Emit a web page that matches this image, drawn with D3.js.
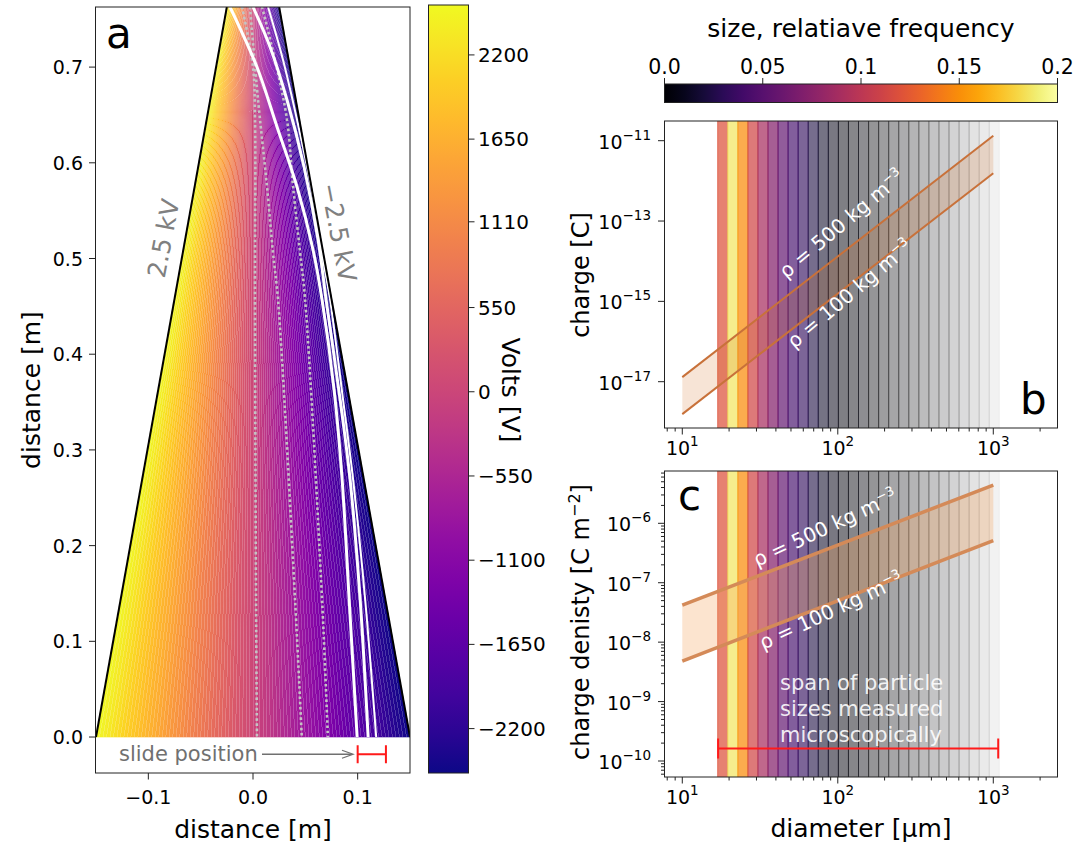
<!DOCTYPE html>
<html><head><meta charset="utf-8">
<script src="https://cdn.jsdelivr.net/npm/d3@7"></script>
<style>body{margin:0;background:#fff}svg{display:block}text{font-family:"DejaVu Sans",sans-serif}</style>
</head><body><svg id="fig" width="1073" height="846"></svg>
<script>
// ---------------- data ----------------
const plateVolts = [2500, -2500];
const plateBottomX = [-0.15, 0.15];
const plateTopX = [-0.025, 0.025];
const plateTopY = 0.7628;
const nLevels = 90;
const voltTicks = [2200, 1650, 1110, 550, 0, -550, -1100, -1650, -2200];
const yTicksA = [0, 0.1, 0.2, 0.3, 0.4, 0.5, 0.6, 0.7];
const xTicksA = [-0.1, 0, 0.1];
const dotted1 = [[-0.0105,0.763],[0,0.700],[0.0019,0.645],[0.0019,0.457],[0.0029,0.143],[0.0038,0]];
const dotted2 = [[-0.0029,0.763],[0.0048,0.666],[0.0134,0.575],[0.0191,0.506],[0.0239,0.457],[0.0402,0.143],[0.0466,0]];
const dotted3 = [[0.0086,0.763],[0.0211,0.707],[0.0325,0.645],[0.0383,0.575],[0.0450,0.506],[0.0498,0.457],[0.0660,0.143],[0.0715,0]];
const white1 = [[-0.0220,0.7628],[0.0038,0.7001],[0.0230,0.6374],[0.0421,0.5747],[0.0574,0.5089],[0.0660,0.4566],[0.0775,0.3626],[0.0852,0.2685],[0.0919,0.1432],[0.0995,0]];
const white2 = [[0,0.7628],[0.0163,0.7210],[0.0325,0.6656],[0.0488,0.5956],[0.0622,0.5193],[0.0699,0.4566],[0.0833,0.3521],[0.0928,0.2685],[0.1024,0.1432],[0.1100,0]];
const white3 = [[0.0144,0.7628],[0.0287,0.7074],[0.0421,0.6447],[0.0555,0.5747],[0.0670,0.4984],[0.0737,0.4566],[0.0861,0.3521],[0.0957,0.2685],[0.1072,0.1432],[0.1177,0]];
const slideRange = [0.1, 0.127];
const slideY = -0.018;

const binEdges = [16.89,19.61,22.76,26.41,30.65,35.57,41.29,47.91,55.61,64.54,74.90,86.95,100.9,117.1,135.9,157.8,183.1,212.5,246.6,286.2,332.2,385.5,447.4,519.2,602.6,699.4,811.7,942.1,1093];
const binFreq = [0.12,0.186,0.15,0.112,0.09,0.072,0.054,0.04,0.032,0.022,0.014,0.008,0.004,0.003,0.003,0.002,0.002,0.002,0.0015,0.0015,0.001,0.001,0.001,0.0005,0.0005,0.0005,0.0003,0.0002];
const freqTicks = [0, 0.05, 0.1, 0.15, 0.2];
const freqTickLabels = ["0.0", "0.05", "0.1", "0.15", "0.2"];

const diam = [10, 1000];
const charge500 = [1.3e-17, 1.33e-11];
const charge100 = [1.56e-18, 1.55e-12];
const density500 = [4.2e-8, 4.4e-6];
const density100 = [4.8e-9, 5.1e-7];
const spanRange = [17, 1076];
const spanY = 1.63e-10;
const chargeTickExp = [-11, -13, -15, -17];
const densityTickExp = [-6, -7, -8, -9, -10];
const diamTickExp = [1, 2, 3];

// ---------------- drawing ----------------
const svg = d3.select("#fig");
const defs = svg.append("defs");
const MINUS = "\u2212";
const fmtNum = v => (v < 0 ? MINUS : "") + Math.abs(v);

// ===== Panel a =====
const xA = d3.scaleLinear().domain([-0.15, 0.15]).range([96, 410]);
const yA = d3.scaleLinear().domain([-0.0376, 0.7628]).range([773, 7]);
const vColor = d3.scaleLinear().domain([-2500, 2500]).range([0, 1]);

defs.append("clipPath").attr("id", "clipA").append("rect")
  .attr("x", 96).attr("y", 7).attr("width", 314).attr("height", 766);

const gA = svg.append("g").attr("clip-path", "url(#clipA)");
const levels = d3.range(nLevels + 1).map(k => plateVolts[0] + (plateVolts[1] - plateVolts[0]) * k / nLevels);
const posAt = (v, which) => {
  const f = (plateVolts[0] - v) / (plateVolts[0] - plateVolts[1]);
  return which === "b" ? plateBottomX[0] + f * (plateBottomX[1] - plateBottomX[0])
                       : plateTopX[0] + f * (plateTopX[1] - plateTopX[0]);
};
const bands = d3.pairs(levels);
gA.selectAll("path.band").data(bands).join("path")
  .attr("class", "band")
  .attr("d", ([a, b]) => {
    const pts = [[posAt(a, "b"), 0], [posAt(b, "b"), 0], [posAt(b, "t"), plateTopY], [posAt(a, "t"), plateTopY]];
    return "M" + pts.map(p => [xA(p[0]), yA(p[1])].join(",")).join("L") + "Z";
  })
  .attr("fill", ([a, b]) => d3.interpolatePlasma(vColor((a + b) / 2)))
  .attr("stroke", ([a, b]) => d3.interpolatePlasma(vColor((a + b) / 2)))
  .attr("stroke-width", 0.6);
// contour seams
gA.selectAll("line.seam").data(levels.slice(1, -1)).join("line")
  .attr("x1", v => xA(posAt(v, "b"))).attr("y1", yA(0))
  .attr("x2", v => xA(posAt(v, "t"))).attr("y2", yA(plateTopY))
  .attr("stroke", "#fff").attr("stroke-opacity", 0.2).attr("stroke-width", 0.8)
  .attr("shape-rendering", "crispEdges");

const lineA = d3.line().x(d => xA(d[0])).y(d => yA(d[1])).curve(d3.curveCatmullRom);
[dotted1, dotted2, dotted3].forEach(p => {
  gA.append("path").attr("d", lineA(p)).attr("fill", "none")
    .attr("stroke", "#c4c4c4").attr("stroke-width", 2.6).attr("stroke-dasharray", "2.6,2.6");
});
[[white1, 3], [white2, 3], [white3, 2]].forEach(([p, w]) => {
  gA.append("path").attr("d", lineA(p)).attr("fill", "none")
    .attr("stroke", "#fff").attr("stroke-width", w);
});
// plates
[0, 1].forEach(i => {
  gA.append("line")
    .attr("x1", xA(plateBottomX[i])).attr("y1", yA(0))
    .attr("x2", xA(plateTopX[i])).attr("y2", yA(plateTopY))
    .attr("stroke", "#000").attr("stroke-width", 2);
});
// frame
svg.append("rect").attr("x", 95.5).attr("y", 7).attr("width", 314.5).attr("height", 766)
  .attr("fill", "none").attr("stroke", "#222").attr("stroke-width", 1);
// axes ticks
yTicksA.forEach(t => {
  svg.append("line").attr("x1", 89).attr("x2", 95.5).attr("y1", yA(t)).attr("y2", yA(t)).attr("stroke", "#222");
  svg.append("text").attr("x", 83).attr("y", yA(t) + 7).attr("text-anchor", "end")
    .attr("font-size", 19).text(t.toFixed(1));
});
xTicksA.forEach(t => {
  svg.append("line").attr("x1", xA(t)).attr("x2", xA(t)).attr("y1", 773).attr("y2", 779.5).attr("stroke", "#222");
  svg.append("text").attr("x", xA(t)).attr("y", 804).attr("text-anchor", "middle")
    .attr("font-size", 19).text((t < 0 ? MINUS : "") + Math.abs(t).toFixed(1));
});
svg.append("text").attr("x", xA(0)).attr("y", 838).attr("text-anchor", "middle").attr("font-size", 25).text("distance [m]");
svg.append("text").attr("transform", "translate(40,390) rotate(-90)").attr("text-anchor", "middle").attr("font-size", 25).text("distance [m]");
svg.append("text").attr("x", 106).attr("y", 48).attr("font-size", 42).text("a");
svg.append("text").attr("transform", "translate(172,240) rotate(-79)").attr("text-anchor", "middle")
  .attr("font-size", 25).attr("fill", "#808080").text("2.5 kV");
svg.append("text").attr("transform", "translate(330,234) rotate(79)").attr("text-anchor", "middle")
  .attr("font-size", 25).attr("fill", "#808080").text(MINUS + "2.5 kV");
// slide position
svg.append("text").attr("x", 119).attr("y", yA(slideY) + 7).attr("font-size", 21).attr("fill", "#707070").text("slide position");
svg.append("line").attr("x1", 262).attr("x2", 352).attr("y1", yA(slideY)).attr("y2", yA(slideY))
  .attr("stroke", "#707070").attr("stroke-width", 1.3);
svg.append("path").attr("d", `M342,${yA(slideY) - 4}L353,${yA(slideY)}L342,${yA(slideY) + 4}`)
  .attr("fill", "none").attr("stroke", "#707070").attr("stroke-width", 1.3);
const sy = yA(slideY);
svg.append("path").attr("d", `M${xA(slideRange[0])},${sy}H${xA(slideRange[1])}M${xA(slideRange[0])},${sy - 9}V${sy + 9}M${xA(slideRange[1])},${sy - 9}V${sy + 9}`)
  .attr("stroke", "#ff1a1a").attr("stroke-width", 2).attr("fill", "none");

// ===== Volts colorbar =====
const cbV = d3.scaleLinear().domain([-2490, 2526]).range([773, 5]);
const gradV = defs.append("linearGradient").attr("id", "gradV").attr("x1", 0).attr("x2", 0).attr("y1", 1).attr("y2", 0);
d3.range(0, 1.0001, 0.05).forEach(t => gradV.append("stop").attr("offset", t).attr("stop-color", d3.interpolatePlasma(t)));
svg.append("rect").attr("x", 428.5).attr("y", 5).attr("width", 40).attr("height", 768)
  .attr("fill", "url(#gradV)").attr("stroke", "#222").attr("stroke-width", 1);
voltTicks.forEach(t => {
  svg.append("line").attr("x1", 468.5).attr("x2", 474.5).attr("y1", cbV(t)).attr("y2", cbV(t)).attr("stroke", "#222");
  svg.append("text").attr("x", 478).attr("y", cbV(t) + 7).attr("font-size", 20).text(fmtNum(t));
});
svg.append("text").attr("transform", "translate(502,390) rotate(90)").attr("text-anchor", "middle").attr("font-size", 25).text("Volts [V]");

// ===== frequency colorbar =====
const cbF = d3.scaleLinear().domain([0, 0.2]).range([664.5, 1057.5]);
const gradF = defs.append("linearGradient").attr("id", "gradF");
d3.range(0, 1.0001, 0.05).forEach(t => gradF.append("stop").attr("offset", t).attr("stop-color", d3.interpolateInferno(t)));
svg.append("rect").attr("x", 664.5).attr("y", 84).attr("width", 393).attr("height", 18.5)
  .attr("fill", "url(#gradF)").attr("stroke", "#222").attr("stroke-width", 1);
freqTicks.forEach((t, i) => {
  svg.append("line").attr("x1", cbF(t)).attr("x2", cbF(t)).attr("y1", 78).attr("y2", 84).attr("stroke", "#222");
  svg.append("text").attr("x", cbF(t)).attr("y", 74).attr("text-anchor", "middle").attr("font-size", 20.5).text(freqTickLabels[i]);
});
svg.append("text").attr("x", 861).attr("y", 37).attr("text-anchor", "middle").attr("font-size", 25).text("size, relatiave frequency");

// ===== Panels b and c =====
const xS = d3.scaleLog().domain([7.685, 2588]).range([664.5, 1057.5]);
const alphaS = d3.scaleLinear().domain([0, 5, binFreq.length - 1]).range([0.72, 0.72, 0.05]).clamp(true);

function panel(id, top, bottom, yS, lo, hi, lineColor, lineW, fillColor, fillOp) {
  defs.append("clipPath").attr("id", id).append("rect")
    .attr("x", 664.5).attr("y", top).attr("width", 393).attr("height", bottom - top);
  const g = svg.append("g").attr("clip-path", `url(#${id})`);
  binFreq.forEach((f, i) => {
    const c = d3.interpolateInferno(f / 0.2);
    g.append("rect").attr("x", xS(binEdges[i])).attr("y", top - 2)
      .attr("width", xS(binEdges[i + 1]) - xS(binEdges[i])).attr("height", bottom - top + 4)
      .attr("fill", c).attr("fill-opacity", alphaS(i))
      .attr("stroke", c).attr("stroke-opacity", alphaS(i)).attr("stroke-width", 1);
  });
  const area = d3.area().x((d, i) => xS(diam[i])).y0((d, i) => yS(lo[i])).y1((d, i) => yS(hi[i]));
  g.append("path").attr("d", area(diam)).attr("fill", fillColor).attr("fill-opacity", fillOp);
  const ln = d3.line().x((d, i) => xS(diam[i])).y(d => yS(d));
  [hi, lo].forEach(arr => g.append("path").attr("d", ln(arr)).attr("fill", "none")
    .attr("stroke", lineColor).attr("stroke-width", lineW));
  return g;
}
function frame(top, bottom) {
  svg.append("rect").attr("x", 664.5).attr("y", top).attr("width", 393).attr("height", bottom - top)
    .attr("fill", "none").attr("stroke", "#222").attr("stroke-width", 1);
}
function xAxisLog(bottom, labelY) {
  diamTickExp.forEach(e => {
    const x = xS(Math.pow(10, e));
    svg.append("line").attr("x1", x).attr("x2", x).attr("y1", bottom).attr("y2", bottom + 6.5).attr("stroke", "#222");
    const t = svg.append("text").attr("x", x).attr("y", labelY).attr("text-anchor", "middle").attr("font-size", 19);
    t.append("tspan").text("10");
    t.append("tspan").attr("dy", -9).attr("font-size", 13.5).text(e);
  });
  [0, 1, 2, 3].forEach(e => d3.range(2, 10).forEach(k => {
    const v = k * Math.pow(10, e);
    if (v < 7.685 || v > 2588) return;
    svg.append("line").attr("x1", xS(v)).attr("x2", xS(v)).attr("y1", bottom).attr("y2", bottom + 3.5).attr("stroke", "#222");
  }));
}
function yAxisLog(yS, exps, minor, dom) {
  exps.forEach(e => {
    const y = yS(Math.pow(10, e));
    svg.append("line").attr("x1", 658).attr("x2", 664.5).attr("y1", y).attr("y2", y).attr("stroke", "#222");
    const t = svg.append("text").attr("x", 651).attr("y", y + 8).attr("text-anchor", "end").attr("font-size", 19);
    t.append("tspan").text("10");
    t.append("tspan").attr("dy", -9).attr("font-size", 13.5).text(MINUS + Math.abs(e));
  });
  if (minor) {
    d3.range(-11, -4).forEach(e => d3.range(2, 10).forEach(k => {
      const v = k * Math.pow(10, e);
      if (v < dom[0] || v > dom[1]) return;
      svg.append("line").attr("x1", 661).attr("x2", 664.5).attr("y1", yS(v)).attr("y2", yS(v)).attr("stroke", "#222");
    }));
  }
}

// panel b
const yB = d3.scaleLog().domain([Math.pow(10, -18.1526), Math.pow(10, -10.5096)]).range([428, 121]);
const gB = panel("clipB", 121, 428, yB, charge100, charge500, "#c8713a", 2, "#d2691e", 0.18);
gB.append("text").attr("transform", "translate(846,229) rotate(-40)").attr("text-anchor", "middle")
  .attr("font-size", 20).attr("fill", "#fff").call(t => {
    t.append("tspan").text("\u03c1 = 500 kg m");
    t.append("tspan").attr("dy", -8).attr("font-size", 13).text(MINUS + "3");
  });
gB.append("text").attr("transform", "translate(854,299) rotate(-40)").attr("text-anchor", "middle")
  .attr("font-size", 20).attr("fill", "#fff").call(t => {
    t.append("tspan").text("\u03c1 = 100 kg m");
    t.append("tspan").attr("dy", -8).attr("font-size", 13).text(MINUS + "3");
  });
frame(121, 428);
xAxisLog(428, 455);
yAxisLog(yB, chargeTickExp, false, null);
svg.append("text").attr("x", 1020).attr("y", 414).attr("font-size", 42).text("b");
svg.append("text").attr("transform", "translate(589,275) rotate(-90)").attr("text-anchor", "middle").attr("font-size", 24).text("charge [C]");

// panel c
const yCdom = [Math.pow(10, -10.269), Math.pow(10, -5.12)];
const yC = d3.scaleLog().domain(yCdom).range([777, 471]);
const gC = panel("clipC", 471, 777, yC, density100, density500, "#d48a58", 3.5, "#f4a460", 0.3);
gC.append("text").attr("transform", "translate(828,534) rotate(-25)").attr("text-anchor", "middle")
  .attr("font-size", 20).attr("fill", "#fff").call(t => {
    t.append("tspan").text("\u03c1 = 500 kg m");
    t.append("tspan").attr("dy", -8).attr("font-size", 13).text(MINUS + "3");
  });
gC.append("text").attr("transform", "translate(834,617) rotate(-25)").attr("text-anchor", "middle")
  .attr("font-size", 20).attr("fill", "#fff").call(t => {
    t.append("tspan").text("\u03c1 = 100 kg m");
    t.append("tspan").attr("dy", -8).attr("font-size", 13).text(MINUS + "3");
  });
["span of particle", "sizes measured", "microscopically"].forEach((s, i) => {
  gC.append("text").attr("x", 780).attr("y", 690 + i * 26).attr("font-size", 21)
    .attr("fill", "#fff").attr("fill-opacity", 0.9).text(s);
});
const spy = yC(spanY);
gC.append("path").attr("d", `M${xS(spanRange[0])},${spy}H${xS(spanRange[1])}M${xS(spanRange[0])},${spy - 10}V${spy + 10}M${xS(spanRange[1])},${spy - 10}V${spy + 10}`)
  .attr("stroke", "#ff1a1a").attr("stroke-width", 2).attr("fill", "none");
frame(471, 777);
xAxisLog(777, 804);
yAxisLog(yC, densityTickExp, true, yCdom);
svg.append("text").attr("x", 678).attr("y", 510).attr("font-size", 42).text("c");
svg.append("text").attr("transform", "translate(589,622) rotate(-90)").attr("text-anchor", "middle").attr("font-size", 24)
  .call(t => {
    t.append("tspan").text("charge denisty [C m");
    t.append("tspan").attr("dy", -9).attr("font-size", 16).text(MINUS + "2");
    t.append("tspan").attr("dy", 9).text("]");
  });
svg.append("text").attr("x", 861).attr("y", 837).attr("text-anchor", "middle").attr("font-size", 25).text("diameter [\u00b5m]");
</script></body></html>
